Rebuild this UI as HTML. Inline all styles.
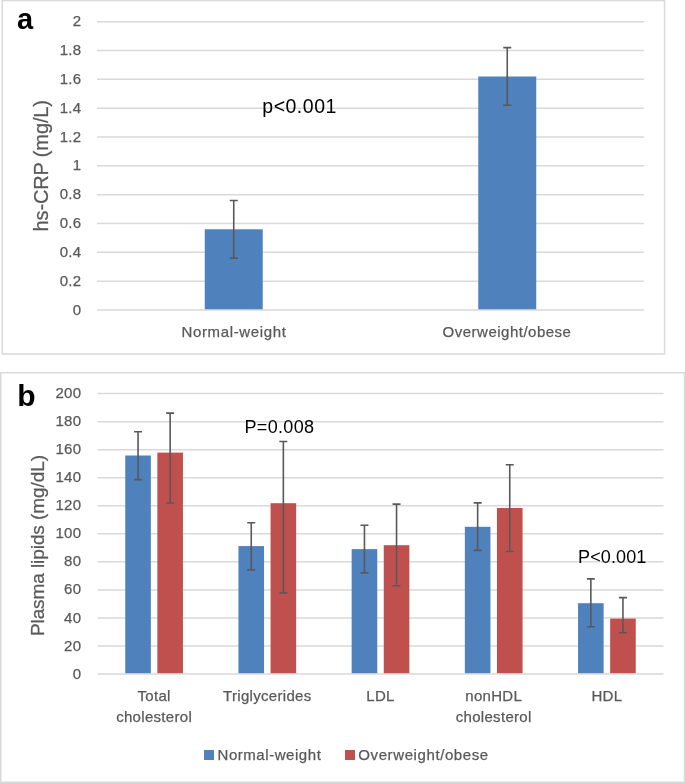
<!DOCTYPE html>
<html><head><meta charset="utf-8"><title>Figure</title>
<style>
html,body{margin:0;padding:0;background:#fff;width:685px;height:783px;overflow:hidden}
svg text{font-family:"Liberation Sans", sans-serif}
svg text[fill="#595959"]{stroke:#595959;stroke-width:0.25px}
svg{will-change:transform}
</style></head><body>
<svg width="685" height="783" viewBox="0 0 685 783" style="display:block">
<rect x="0" y="0" width="685" height="783" fill="#fff"/>
<rect x="2.25" y="0.5" width="662.25" height="353.5" fill="none" stroke="#d9d9d9" stroke-width="1.5"/>
<line x1="97" y1="310.00" x2="644" y2="310.00" stroke="#d9d9d9" stroke-width="1.5"/>
<text x="81.2" y="314.60" text-anchor="end" font-size="15" letter-spacing="0.2" fill="#595959">0</text>
<line x1="97" y1="281.17" x2="644" y2="281.17" stroke="#d9d9d9" stroke-width="1.5"/>
<text x="81.2" y="285.77" text-anchor="end" font-size="15" letter-spacing="0.2" fill="#595959">0.2</text>
<line x1="97" y1="252.34" x2="644" y2="252.34" stroke="#d9d9d9" stroke-width="1.5"/>
<text x="81.2" y="256.94" text-anchor="end" font-size="15" letter-spacing="0.2" fill="#595959">0.4</text>
<line x1="97" y1="223.51" x2="644" y2="223.51" stroke="#d9d9d9" stroke-width="1.5"/>
<text x="81.2" y="228.11" text-anchor="end" font-size="15" letter-spacing="0.2" fill="#595959">0.6</text>
<line x1="97" y1="194.68" x2="644" y2="194.68" stroke="#d9d9d9" stroke-width="1.5"/>
<text x="81.2" y="199.28" text-anchor="end" font-size="15" letter-spacing="0.2" fill="#595959">0.8</text>
<line x1="97" y1="165.85" x2="644" y2="165.85" stroke="#d9d9d9" stroke-width="1.5"/>
<text x="81.2" y="170.45" text-anchor="end" font-size="15" letter-spacing="0.2" fill="#595959">1</text>
<line x1="97" y1="137.02" x2="644" y2="137.02" stroke="#d9d9d9" stroke-width="1.5"/>
<text x="81.2" y="141.62" text-anchor="end" font-size="15" letter-spacing="0.2" fill="#595959">1.2</text>
<line x1="97" y1="108.19" x2="644" y2="108.19" stroke="#d9d9d9" stroke-width="1.5"/>
<text x="81.2" y="112.79" text-anchor="end" font-size="15" letter-spacing="0.2" fill="#595959">1.4</text>
<line x1="97" y1="79.36" x2="644" y2="79.36" stroke="#d9d9d9" stroke-width="1.5"/>
<text x="81.2" y="83.96" text-anchor="end" font-size="15" letter-spacing="0.2" fill="#595959">1.6</text>
<line x1="97" y1="50.53" x2="644" y2="50.53" stroke="#d9d9d9" stroke-width="1.5"/>
<text x="81.2" y="55.13" text-anchor="end" font-size="15" letter-spacing="0.2" fill="#595959">1.8</text>
<line x1="97" y1="21.70" x2="644" y2="21.70" stroke="#d9d9d9" stroke-width="1.5"/>
<text x="81.2" y="26.30" text-anchor="end" font-size="15" letter-spacing="0.2" fill="#595959">2</text>
<rect x="204.75" y="229.28" width="58" height="80.02" fill="#4f81bd"/>
<path d="M233.75 200.45V258.11M229.75 200.45H237.75M229.75 258.11H237.75" stroke="#595959" stroke-width="1.6" fill="none"/>
<rect x="478.25" y="76.48" width="58" height="232.82" fill="#4f81bd"/>
<path d="M507.25 47.65V105.31M503.25 47.65H511.25M503.25 105.31H511.25" stroke="#595959" stroke-width="1.6" fill="none"/>
<text x="262.3" y="112.7" font-size="19.5" letter-spacing="0.5" fill="#000">p&lt;0.001</text>
<text x="234" y="336.6" text-anchor="middle" font-size="15" letter-spacing="0.65" fill="#595959">Normal-weight</text>
<text x="507" y="336.6" text-anchor="middle" font-size="15" letter-spacing="0.5" fill="#595959">Overweight/obese</text>
<text transform="translate(48.3 165.8) rotate(-90)" x="0" y="0" text-anchor="middle" font-size="20" letter-spacing="-0.13" fill="#595959">hs-CRP (mg/L)</text>
<text x="17" y="29" font-size="29" font-weight="bold" fill="#000">a</text>
<rect x="0.75" y="372.75" width="683.75" height="409.5" fill="none" stroke="#d9d9d9" stroke-width="1.5"/>
<line x1="97.5" y1="674.00" x2="663.5" y2="674.00" stroke="#d9d9d9" stroke-width="1.5"/>
<text x="81.2" y="678.60" text-anchor="end" font-size="15" letter-spacing="0.2" fill="#595959">0</text>
<line x1="97.5" y1="645.96" x2="663.5" y2="645.96" stroke="#d9d9d9" stroke-width="1.5"/>
<text x="81.2" y="650.56" text-anchor="end" font-size="15" letter-spacing="0.2" fill="#595959">20</text>
<line x1="97.5" y1="617.92" x2="663.5" y2="617.92" stroke="#d9d9d9" stroke-width="1.5"/>
<text x="81.2" y="622.52" text-anchor="end" font-size="15" letter-spacing="0.2" fill="#595959">40</text>
<line x1="97.5" y1="589.88" x2="663.5" y2="589.88" stroke="#d9d9d9" stroke-width="1.5"/>
<text x="81.2" y="594.48" text-anchor="end" font-size="15" letter-spacing="0.2" fill="#595959">60</text>
<line x1="97.5" y1="561.84" x2="663.5" y2="561.84" stroke="#d9d9d9" stroke-width="1.5"/>
<text x="81.2" y="566.44" text-anchor="end" font-size="15" letter-spacing="0.2" fill="#595959">80</text>
<line x1="97.5" y1="533.80" x2="663.5" y2="533.80" stroke="#d9d9d9" stroke-width="1.5"/>
<text x="81.2" y="538.40" text-anchor="end" font-size="15" letter-spacing="0.2" fill="#595959">100</text>
<line x1="97.5" y1="505.76" x2="663.5" y2="505.76" stroke="#d9d9d9" stroke-width="1.5"/>
<text x="81.2" y="510.36" text-anchor="end" font-size="15" letter-spacing="0.2" fill="#595959">120</text>
<line x1="97.5" y1="477.72" x2="663.5" y2="477.72" stroke="#d9d9d9" stroke-width="1.5"/>
<text x="81.2" y="482.32" text-anchor="end" font-size="15" letter-spacing="0.2" fill="#595959">140</text>
<line x1="97.5" y1="449.68" x2="663.5" y2="449.68" stroke="#d9d9d9" stroke-width="1.5"/>
<text x="81.2" y="454.28" text-anchor="end" font-size="15" letter-spacing="0.2" fill="#595959">160</text>
<line x1="97.5" y1="421.64" x2="663.5" y2="421.64" stroke="#d9d9d9" stroke-width="1.5"/>
<text x="81.2" y="426.24" text-anchor="end" font-size="15" letter-spacing="0.2" fill="#595959">180</text>
<line x1="97.5" y1="393.60" x2="663.5" y2="393.60" stroke="#d9d9d9" stroke-width="1.5"/>
<text x="81.2" y="398.20" text-anchor="end" font-size="15" letter-spacing="0.2" fill="#595959">200</text>
<rect x="125.25" y="455.50" width="25.6" height="217.70" fill="#4f81bd"/>
<rect x="157.35" y="452.60" width="25.6" height="220.60" fill="#c0504d"/>
<path d="M138.05 431.70V479.60M134.05 431.70H142.05M134.05 479.60H142.05" stroke="#595959" stroke-width="1.6" fill="none"/>
<path d="M170.15 413.10V503.00M166.15 413.10H174.15M166.15 503.00H174.15" stroke="#595959" stroke-width="1.6" fill="none"/>
<rect x="238.45" y="546.10" width="25.6" height="127.10" fill="#4f81bd"/>
<rect x="270.55" y="503.20" width="25.6" height="170.00" fill="#c0504d"/>
<path d="M251.25 522.70V569.90M247.25 522.70H255.25M247.25 569.90H255.25" stroke="#595959" stroke-width="1.6" fill="none"/>
<path d="M283.35 441.50V592.90M279.35 441.50H287.35M279.35 592.90H287.35" stroke="#595959" stroke-width="1.6" fill="none"/>
<rect x="351.65" y="549.10" width="25.6" height="124.10" fill="#4f81bd"/>
<rect x="383.75" y="545.20" width="25.6" height="128.00" fill="#c0504d"/>
<path d="M364.45 525.20V572.90M360.45 525.20H368.45M360.45 572.90H368.45" stroke="#595959" stroke-width="1.6" fill="none"/>
<path d="M396.55 504.10V585.80M392.55 504.10H400.55M392.55 585.80H400.55" stroke="#595959" stroke-width="1.6" fill="none"/>
<rect x="464.85" y="526.80" width="25.6" height="146.40" fill="#4f81bd"/>
<rect x="496.95" y="508.00" width="25.6" height="165.20" fill="#c0504d"/>
<path d="M477.65 502.90V550.40M473.65 502.90H481.65M473.65 550.40H481.65" stroke="#595959" stroke-width="1.6" fill="none"/>
<path d="M509.75 464.80V551.50M505.75 464.80H513.75M505.75 551.50H513.75" stroke="#595959" stroke-width="1.6" fill="none"/>
<rect x="578.05" y="603.20" width="25.6" height="70.00" fill="#4f81bd"/>
<rect x="610.15" y="618.60" width="25.6" height="54.60" fill="#c0504d"/>
<path d="M590.85 578.90V626.80M586.85 578.90H594.85M586.85 626.80H594.85" stroke="#595959" stroke-width="1.6" fill="none"/>
<path d="M622.95 597.60V632.70M618.95 597.60H626.95M618.95 632.70H626.95" stroke="#595959" stroke-width="1.6" fill="none"/>
<text x="244.5" y="432.5" font-size="18" letter-spacing="0.33" fill="#000">P=0.008</text>
<text x="578.1" y="563.3" font-size="18" letter-spacing="0.1" fill="#000">P&lt;0.001</text>
<text x="154.10" y="700.9" text-anchor="middle" font-size="15" letter-spacing="0.3" fill="#595959">Total</text>
<text x="154.10" y="721.6" text-anchor="middle" font-size="15" letter-spacing="0.3" fill="#595959">cholesterol</text>
<text x="267.30" y="700.9" text-anchor="middle" font-size="15" letter-spacing="0.3" fill="#595959">Triglycerides</text>
<text x="380.50" y="700.9" text-anchor="middle" font-size="15" letter-spacing="0.3" fill="#595959">LDL</text>
<text x="493.70" y="700.9" text-anchor="middle" font-size="15" letter-spacing="0.3" fill="#595959">nonHDL</text>
<text x="493.70" y="721.6" text-anchor="middle" font-size="15" letter-spacing="0.3" fill="#595959">cholesterol</text>
<text x="606.90" y="700.9" text-anchor="middle" font-size="15" letter-spacing="0.3" fill="#595959">HDL</text>
<text transform="translate(44.2 545.6) rotate(-90)" x="0" y="0" text-anchor="middle" font-size="19" letter-spacing="-0.08" fill="#595959">Plasma lipids (mg/dL)</text>
<text transform="translate(17.3 405.6) scale(1.05 1)" font-size="28.6" font-weight="bold" fill="#000">b</text>
<rect x="204" y="750" width="10" height="10" fill="#4f81bd"/>
<text x="217.5" y="759.8" font-size="15" letter-spacing="0.55" fill="#595959">Normal-weight</text>
<rect x="345" y="750" width="10" height="10" fill="#c0504d"/>
<text x="358.3" y="759.8" font-size="15" letter-spacing="0.6" fill="#595959">Overweight/obese</text>
</svg>
</body></html>
